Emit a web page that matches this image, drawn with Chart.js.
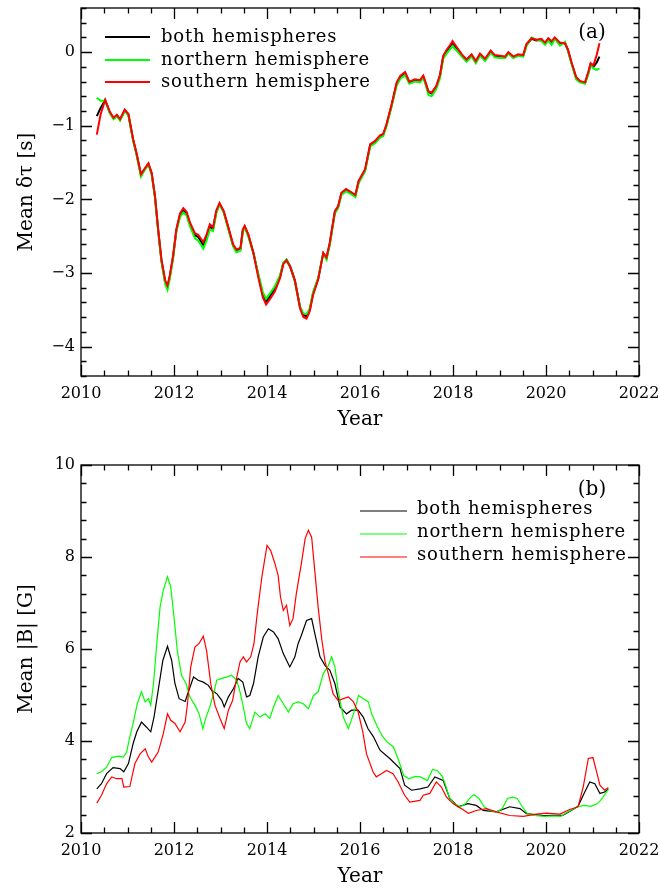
<!DOCTYPE html>
<html>
<head>
<meta charset="utf-8">
<script src="https://cdn.jsdelivr.net/npm/chart.js@4.4.1/dist/chart.umd.min.js"></script>
<style>
  body { margin: 0; background: #fff; }
  canvas { position: absolute; left: 0; }
  #chartA { top: 0; }
  #chartB { top: 445px; }
</style>
</head>
<body>
<canvas id="chartA" width="660" height="445"></canvas>
<canvas id="chartB" width="660" height="446"></canvas>
<script>
// ---- data ----
const seriesNames = ["both hemispheres", "northern hemisphere", "southern hemisphere"];
const yearTicks = [2010, 2012, 2014, 2016, 2018, 2020, 2022];
const dtauTicks = [-4, -3, -2, -1, 0];
const fieldTicks = [2, 4, 6, 8, 10];

// panel (a): mean travel-time shift, one shared time axis
const yrA = [
  2010.34, 2010.42, 2010.52, 2010.62, 2010.70, 2010.77, 2010.84, 2010.94,
  2011.02, 2011.12, 2011.19, 2011.29, 2011.36, 2011.45, 2011.52, 2011.59,
  2011.66, 2011.73, 2011.81, 2011.86, 2011.91, 2011.98, 2012.05, 2012.13,
  2012.20, 2012.27, 2012.34, 2012.45, 2012.52, 2012.63, 2012.70, 2012.77,
  2012.84, 2012.91, 2012.98, 2013.07, 2013.16, 2013.27, 2013.34, 2013.43,
  2013.48, 2013.52, 2013.60, 2013.71, 2013.82, 2013.91, 2013.98, 2014.06,
  2014.17, 2014.28, 2014.35, 2014.42, 2014.50, 2014.60, 2014.71, 2014.78,
  2014.85, 2014.92, 2014.99, 2015.10, 2015.21, 2015.28, 2015.35, 2015.46,
  2015.53, 2015.60, 2015.70, 2015.81, 2015.90, 2015.97, 2016.11, 2016.22,
  2016.32, 2016.43, 2016.50, 2016.57, 2016.68, 2016.79, 2016.87, 2016.97,
  2017.06, 2017.18, 2017.29, 2017.36, 2017.41, 2017.47, 2017.54, 2017.64,
  2017.72, 2017.79, 2017.86, 2017.94, 2017.99, 2018.08, 2018.19, 2018.29,
  2018.40, 2018.49, 2018.58, 2018.69, 2018.81, 2018.90, 2019.01, 2019.12,
  2019.19, 2019.30, 2019.40, 2019.51, 2019.58, 2019.69, 2019.79, 2019.90,
  2019.98, 2020.05, 2020.12, 2020.19, 2020.30, 2020.41, 2020.47, 2020.55,
  2020.65, 2020.73, 2020.84, 2020.91, 2020.96, 2021.02, 2021.09, 2021.15
];
const dtauBoth = [
  -0.87, -0.76, -0.65, -0.82, -0.90, -0.86, -0.92, -0.79,
  -0.85, -1.19, -1.37, -1.67, -1.60, -1.52, -1.65, -1.96,
  -2.42, -2.83, -3.12, -3.19, -3.05, -2.78, -2.42, -2.21,
  -2.15, -2.19, -2.33, -2.49, -2.51, -2.62, -2.51, -2.37,
  -2.40, -2.17, -2.06, -2.17, -2.37, -2.62, -2.69, -2.67,
  -2.42, -2.37, -2.49, -2.73, -3.05, -3.30, -3.39, -3.32,
  -3.22, -3.05, -2.87, -2.82, -2.91, -3.10, -3.46, -3.57,
  -3.59, -3.50, -3.28, -3.08, -2.73, -2.80, -2.60, -2.17,
  -2.10, -1.92, -1.87, -1.91, -1.95, -1.76, -1.60, -1.26,
  -1.22, -1.14, -1.12, -0.99, -0.72, -0.42, -0.33, -0.28,
  -0.41, -0.38, -0.39, -0.33, -0.42, -0.54, -0.56, -0.47,
  -0.32, -0.06, 0.01, 0.08, 0.13, 0.05, -0.04, -0.11,
  -0.04, -0.13, -0.03, -0.10, 0.01, -0.05, -0.06, -0.07,
  -0.01, -0.07, -0.04, -0.05, 0.10, 0.18, 0.16, 0.17,
  0.12, 0.18, 0.13, 0.19, 0.12, 0.12, 0.03, -0.15,
  -0.35, -0.40, -0.42, -0.28, -0.16, -0.20, -0.14, -0.06
];
const dtauNorth = [
  -0.62, -0.66, -0.66, -0.83, -0.91, -0.87, -0.93, -0.80,
  -0.86, -1.20, -1.38, -1.69, -1.61, -1.53, -1.66, -1.97,
  -2.43, -2.85, -3.15, -3.23, -3.08, -2.80, -2.44, -2.24,
  -2.18, -2.22, -2.36, -2.53, -2.56, -2.67, -2.56, -2.41,
  -2.43, -2.19, -2.07, -2.18, -2.39, -2.64, -2.72, -2.70,
  -2.44, -2.38, -2.51, -2.74, -3.03, -3.26, -3.35, -3.28,
  -3.18, -3.03, -2.86, -2.82, -2.92, -3.12, -3.46, -3.55,
  -3.56, -3.48, -3.26, -3.07, -2.74, -2.82, -2.62, -2.19,
  -2.12, -1.94, -1.89, -1.93, -1.97, -1.78, -1.62, -1.28,
  -1.24, -1.16, -1.14, -1.01, -0.74, -0.45, -0.36, -0.31,
  -0.43, -0.40, -0.41, -0.35, -0.44, -0.58, -0.60, -0.50,
  -0.35, -0.09, -0.02, 0.04, 0.08, 0.02, -0.06, -0.13,
  -0.06, -0.15, -0.05, -0.12, -0.01, -0.07, -0.08, -0.08,
  -0.02, -0.08, -0.05, -0.06, 0.08, 0.20, 0.17, 0.15,
  0.10, 0.16, 0.10, 0.18, 0.09, 0.14, 0.02, -0.16,
  -0.37, -0.41, -0.43, -0.30, -0.18, -0.22, -0.24, -0.22
];
const dtauSouth = [
  -1.12, -0.85, -0.65, -0.81, -0.89, -0.85, -0.91, -0.78,
  -0.84, -1.18, -1.36, -1.66, -1.59, -1.51, -1.64, -1.95,
  -2.41, -2.82, -3.10, -3.17, -3.03, -2.77, -2.41, -2.19,
  -2.12, -2.17, -2.31, -2.46, -2.48, -2.58, -2.48, -2.34,
  -2.38, -2.15, -2.05, -2.16, -2.36, -2.61, -2.68, -2.66,
  -2.41, -2.36, -2.48, -2.74, -3.08, -3.33, -3.43, -3.36,
  -3.25, -3.07, -2.88, -2.83, -2.92, -3.11, -3.48, -3.60,
  -3.62, -3.52, -3.30, -3.09, -2.73, -2.79, -2.59, -2.16,
  -2.09, -1.91, -1.86, -1.90, -1.94, -1.75, -1.59, -1.25,
  -1.21, -1.13, -1.11, -0.98, -0.71, -0.41, -0.32, -0.27,
  -0.40, -0.37, -0.38, -0.32, -0.41, -0.53, -0.55, -0.46,
  -0.31, -0.05, 0.03, 0.10, 0.15, 0.07, -0.03, -0.10,
  -0.03, -0.12, -0.02, -0.09, 0.02, -0.04, -0.05, -0.06,
  0.00, -0.06, -0.03, -0.04, 0.11, 0.19, 0.17, 0.18,
  0.13, 0.19, 0.15, 0.20, 0.13, 0.12, 0.04, -0.14,
  -0.34, -0.39, -0.41, -0.27, -0.15, -0.18, -0.04, 0.12
];

// panel (b): mean unsigned field
const yrBoth = [
  2010.34, 2010.44, 2010.55, 2010.69, 2010.84, 2010.92, 2011.02, 2011.12,
  2011.20, 2011.30, 2011.41, 2011.50, 2011.57, 2011.66, 2011.76, 2011.86,
  2011.95, 2012.02, 2012.11, 2012.24, 2012.31, 2012.42, 2012.52, 2012.63,
  2012.74, 2012.81, 2012.92, 2013.03, 2013.08, 2013.17, 2013.28, 2013.38,
  2013.48, 2013.56, 2013.63, 2013.71, 2013.81, 2013.92, 2014.03, 2014.14,
  2014.24, 2014.35, 2014.49, 2014.60, 2014.67, 2014.74, 2014.85, 2014.96,
  2015.03, 2015.14, 2015.25, 2015.35, 2015.46, 2015.57, 2015.71, 2015.82,
  2015.96, 2016.07, 2016.17, 2016.29, 2016.43, 2016.64, 2016.86, 2016.96,
  2017.11, 2017.29, 2017.46, 2017.61, 2017.79, 2017.93, 2018.11, 2018.32,
  2018.50, 2018.65, 2018.93, 2019.22, 2019.44, 2019.58, 2019.94, 2020.37,
  2020.58, 2020.69, 2020.80, 2020.94, 2021.05, 2021.16, 2021.26, 2021.34
];
const bBoth = [
  2.96, 3.07, 3.29, 3.42, 3.40, 3.33, 3.51, 3.94,
  4.20, 4.41, 4.30, 4.20, 4.52, 5.10, 5.75, 6.06,
  5.75, 5.25, 4.92, 4.86, 5.07, 5.39, 5.32, 5.28,
  5.21, 5.10, 5.03, 4.88, 4.74, 4.96, 5.14, 5.36,
  5.28, 4.96, 4.99, 5.25, 5.83, 6.26, 6.44, 6.37,
  6.22, 5.90, 5.61, 5.83, 6.12, 6.30, 6.62, 6.66,
  6.33, 5.83, 5.64, 5.54, 5.25, 4.74, 4.59, 4.67,
  4.67, 4.52, 4.27, 4.09, 3.80, 3.62, 3.40, 3.04,
  2.93, 2.96, 3.00, 3.22, 3.14, 2.75, 2.57, 2.64,
  2.60, 2.49, 2.46, 2.57, 2.53, 2.42, 2.38, 2.39,
  2.51, 2.58, 2.82, 3.11, 3.07, 2.86, 2.89, 2.96
];
const yrNorth = [
  2010.34, 2010.44, 2010.55, 2010.66, 2010.80, 2010.91, 2010.98, 2011.05,
  2011.12, 2011.21, 2011.30, 2011.38, 2011.45, 2011.50, 2011.56, 2011.63,
  2011.70, 2011.77, 2011.86, 2011.93, 2012.00, 2012.07, 2012.16, 2012.26,
  2012.34, 2012.45, 2012.54, 2012.62, 2012.69, 2012.77, 2012.85, 2012.92,
  2013.03, 2013.13, 2013.24, 2013.35, 2013.42, 2013.49, 2013.56, 2013.63,
  2013.74, 2013.85, 2013.96, 2014.06, 2014.14, 2014.24, 2014.35, 2014.46,
  2014.56, 2014.67, 2014.78, 2014.89, 2015.00, 2015.10, 2015.21, 2015.32,
  2015.39, 2015.46, 2015.53, 2015.64, 2015.75, 2015.86, 2015.97, 2016.07,
  2016.18, 2016.25, 2016.36, 2016.47, 2016.58, 2016.72, 2016.83, 2016.94,
  2017.05, 2017.19, 2017.30, 2017.45, 2017.56, 2017.66, 2017.77, 2017.84,
  2017.92, 2018.02, 2018.16, 2018.27, 2018.38, 2018.45, 2018.56, 2018.67,
  2018.81, 2018.95, 2019.06, 2019.17, 2019.28, 2019.38, 2019.49, 2019.60,
  2019.74, 2019.96, 2020.17, 2020.32, 2020.42, 2020.53, 2020.68, 2020.82,
  2020.96, 2021.11, 2021.21, 2021.28, 2021.35
];
const bNorth = [
  3.29, 3.33, 3.43, 3.64, 3.67, 3.65, 3.76, 4.09,
  4.38, 4.81, 5.07, 4.85, 4.92, 4.78, 5.25, 6.12,
  6.91, 7.28, 7.57, 7.35, 6.70, 5.97, 5.43, 5.25,
  4.96, 4.78, 4.59, 4.27, 4.52, 4.74, 5.03, 5.32,
  5.36, 5.39, 5.43, 5.32, 5.07, 4.74, 4.38, 4.27,
  4.63, 4.52, 4.59, 4.49, 4.74, 4.99, 4.81, 4.63,
  4.81, 4.85, 4.81, 4.70, 4.99, 5.07, 5.46, 5.64,
  5.83, 5.61, 5.10, 4.52, 4.27, 4.59, 4.99, 4.92,
  4.85, 4.59, 4.34, 4.12, 3.98, 3.87, 3.58, 3.25,
  3.18, 3.23, 3.22, 3.14, 3.38, 3.36, 3.23, 3.04,
  2.78, 2.64, 2.57, 2.64, 2.78, 2.83, 2.75, 2.57,
  2.48, 2.46, 2.53, 2.75, 2.78, 2.75, 2.57, 2.42,
  2.38, 2.36, 2.37, 2.36, 2.43, 2.49, 2.57, 2.60,
  2.58, 2.64, 2.75, 2.86, 2.96
];
const yrSouth = [
  2010.34, 2010.44, 2010.55, 2010.66, 2010.77, 2010.88, 2010.92, 2011.05,
  2011.16, 2011.27, 2011.38, 2011.45, 2011.52, 2011.59, 2011.66, 2011.77,
  2011.86, 2011.93, 2012.02, 2012.13, 2012.24, 2012.29, 2012.36, 2012.45,
  2012.54, 2012.63, 2012.70, 2012.79, 2012.88, 2012.99, 2013.08, 2013.17,
  2013.26, 2013.35, 2013.42, 2013.49, 2013.56, 2013.65, 2013.72, 2013.79,
  2013.89, 2014.00, 2014.08, 2014.17, 2014.24, 2014.29, 2014.35, 2014.42,
  2014.49, 2014.56, 2014.63, 2014.69, 2014.74, 2014.82, 2014.89, 2014.96,
  2015.03, 2015.10, 2015.18, 2015.25, 2015.32, 2015.42, 2015.53, 2015.64,
  2015.75, 2015.86, 2015.96, 2016.06, 2016.14, 2016.28, 2016.35, 2016.46,
  2016.57, 2016.71, 2016.82, 2016.96, 2017.07, 2017.29, 2017.36, 2017.50,
  2017.64, 2017.75, 2017.86, 2018.00, 2018.18, 2018.33, 2018.50, 2018.72,
  2018.93, 2019.22, 2019.51, 2019.79, 2020.01, 2020.30, 2020.51, 2020.69,
  2020.80, 2020.91, 2021.01, 2021.08, 2021.16, 2021.26, 2021.34
];
const bSouth = [
  2.65, 2.82, 3.07, 3.22, 3.18, 3.18, 3.00, 3.01,
  3.51, 3.72, 3.83, 3.65, 3.54, 3.65, 3.76, 4.16,
  4.59, 4.45, 4.38, 4.20, 4.41, 4.81, 5.61, 6.04,
  6.12, 6.28, 5.97, 5.25, 4.78, 4.49, 4.27, 4.67,
  4.88, 5.39, 5.72, 5.83, 5.72, 5.83, 6.12, 6.77,
  7.57, 8.25, 8.14, 7.86, 7.60, 7.13, 6.84, 6.95,
  6.51, 6.66, 7.20, 7.57, 7.86, 8.40, 8.58, 8.43,
  7.67, 6.91, 6.19, 5.72, 5.46, 5.03, 4.88, 4.92,
  4.96, 4.85, 4.63, 4.20, 3.72, 3.33, 3.22, 3.29,
  3.36, 3.29, 3.11, 2.82, 2.67, 2.71, 2.82, 2.86,
  3.11, 3.00, 2.78, 2.64, 2.53, 2.43, 2.49, 2.53,
  2.46, 2.38, 2.36, 2.41, 2.43, 2.41, 2.51, 2.57,
  3.00, 3.62, 3.64, 3.36, 3.04, 2.93, 2.99
];

const colors = ["#000000", "#00ff00", "#ff0000"];
const FONT = "'DejaVu Serif', serif";

function pts(xs, ys) {
  return xs.map((x, i) => ({ x: x, y: ys[i] }));
}

function minus(v) {
  return v < 0 ? "\u2212" + Math.abs(v) : String(v);
}

// box with inward major/minor ticks on all four sides (IDL style)
const framePlugin = {
  id: "frame",
  afterDraw(chart, args, opts) {
    const { ctx, chartArea: a } = chart;
    const x = chart.scales.x, y = chart.scales.y;
    ctx.save();
    ctx.strokeStyle = "#000";
    ctx.lineWidth = 1.3;
    ctx.strokeRect(a.left, a.top, a.right - a.left, a.bottom - a.top);
    ctx.beginPath();
    const n = Math.round((x.max - x.min) / opts.xMinor);
    for (let i = 0; i <= n; i++) {
      const v = x.min + i * opts.xMinor;
      const len = i % opts.xEvery === 0 ? 11 : 5.5;
      const px = Math.round(x.getPixelForValue(v)) + 0.5;
      ctx.moveTo(px, a.bottom); ctx.lineTo(px, a.bottom - len);
      ctx.moveTo(px, a.top); ctx.lineTo(px, a.top + len);
    }
    const m = Math.round((y.max - y.min) / opts.yMinor);
    for (let i = 0; i <= m; i++) {
      const v = y.min + i * opts.yMinor;
      const major = Math.abs(v / opts.yMajor - Math.round(v / opts.yMajor)) < 1e-6;
      const len = major ? 11 : 5.5;
      const py = Math.round(y.getPixelForValue(v)) + 0.5;
      ctx.moveTo(a.left, py); ctx.lineTo(a.left + len, py);
      ctx.moveTo(a.right, py); ctx.lineTo(a.right - len, py);
    }
    ctx.stroke();
    ctx.restore();
  }
};

// hand-placed legend and panel letter
const notePlugin = {
  id: "note",
  afterDraw(chart, args, opts) {
    const ctx = chart.ctx;
    ctx.save();
    ctx.font = "18px " + FONT;
    ctx.letterSpacing = "0.8px";
    ctx.textBaseline = "middle";
    ctx.fillStyle = "#000";
    chart.data.datasets.forEach((ds, i) => {
      const yy = opts.rows[i];
      ctx.strokeStyle = ds.borderColor;
      ctx.lineWidth = ds.borderWidth;
      ctx.beginPath();
      ctx.moveTo(opts.x0, yy + opts.lineDy);
      ctx.lineTo(opts.x1, yy + opts.lineDy);
      ctx.stroke();
      ctx.fillText(ds.label, opts.xt, yy);
    });
    ctx.letterSpacing = "0px";
    ctx.font = "20px " + FONT;
    ctx.textAlign = "center";
    ctx.fillText(opts.tag, opts.tagX, opts.tagY);
    ctx.restore();
  }
};

function fixWidth(w) {
  return function (scale) {
    scale.width = w;
    scale.paddingTop = 0; scale.paddingBottom = 0;
  };
}
function fixHeight(h) {
  return function (scale) {
    scale.height = h;
    scale.paddingLeft = 0; scale.paddingRight = 0;
  };
}

function makeChart(id, cfg) {
  const datasets = cfg.series.map((s, i) => ({
    label: seriesNames[i],
    data: s,
    borderColor: colors[i],
    borderWidth: cfg.lw,
    pointRadius: 0,
    tension: 0,
    fill: false,
    order: 2 - i
  }));
  return new Chart(document.getElementById(id), {
    type: "line",
    data: { datasets: datasets },
    options: {
      responsive: false,
      animation: false,
      events: [],
      layout: { padding: { top: cfg.top, right: 21, left: 0, bottom: 0 } },
      plugins: {
        legend: { display: false },
        tooltip: { enabled: false },
        frame: { xMinor: 0.5, xEvery: 4, yMinor: cfg.yMinor, yMajor: cfg.yMajor },
        note: cfg.note
      },
      scales: {
        x: {
          type: "linear",
          min: 2010, max: 2022,
          grid: { display: false, drawTicks: false },
          border: { display: false },
          afterBuildTicks: (s) => { s.ticks = yearTicks.map(v => ({ value: v })); },
          afterFit: fixHeight(cfg.xh),
          ticks: {
            color: "#000", padding: 8, maxRotation: 0, autoSkip: false,
            font: { family: FONT, size: 16 },
            callback: (v) => String(v)
          },
          title: {
            display: true, text: "Year", color: "#000",
            font: { family: FONT, size: 20 },
            padding: { top: 0, bottom: cfg.xtPad }
          }
        },
        y: {
          type: "linear",
          min: cfg.ymin, max: cfg.ymax,
          grid: { display: false, drawTicks: false },
          border: { display: false },
          afterBuildTicks: (s) => { s.ticks = cfg.yticks.map(v => ({ value: v })); },
          afterFit: fixWidth(81),
          ticks: {
            color: "#000", padding: 6, autoSkip: false,
            font: { family: FONT, size: 16 },
            callback: (v) => minus(v)
          },
          title: {
            display: true, text: cfg.ytitle, color: "#000",
            font: { family: FONT, size: 20 },
            padding: { top: 15, bottom: 0 }
          }
        }
      }
    },
    plugins: [framePlugin, notePlugin]
  });
}

makeChart("chartA", {
  series: [pts(yrA, dtauBoth), pts(yrA, dtauNorth), pts(yrA, dtauSouth)],
  lw: 2, top: 8, xh: 69, xtPad: 13,
  ymin: -4.4, ymax: 0.6, yMinor: 0.2, yMajor: 1, yticks: dtauTicks,
  ytitle: "Mean \u03b4\u03c4 [s]",
  note: { x0: 105, x1: 150, xt: 161, rows: [37, 60, 82], lineDy: 0, tag: "(a)", tagX: 592, tagY: 33 }
});

makeChart("chartB", {
  series: [pts(yrBoth, bBoth), pts(yrNorth, bNorth), pts(yrSouth, bSouth)],
  lw: 1.2, top: 20, xh: 58, xtPad: 2,
  ymin: 2, ymax: 10, yMinor: 0.4, yMajor: 2, yticks: fieldTicks,
  ytitle: "Mean |B| [G]",
  note: { x0: 360, x1: 407, xt: 417, rows: [64, 87, 110], lineDy: 2, tag: "(b)", tagX: 592, tagY: 45 }
});
</script>
</body>
</html>
